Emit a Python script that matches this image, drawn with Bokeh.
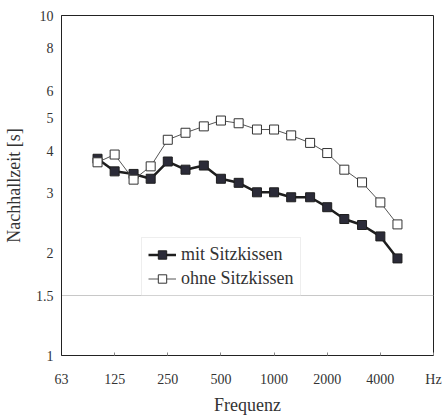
from bokeh.plotting import figure
from bokeh.models import FixedTicker, Legend, LegendItem, BasicTickFormatter
from bokeh.embed import file_html
from bokeh.resources import INLINE

freqs = [100, 125, 160, 200, 250, 315, 400, 500, 630, 800, 1000, 1250, 1600, 2000, 2500, 3150, 4000, 5000]
mit_sitzkissen = [3.79, 3.48, 3.42, 3.31, 3.72, 3.52, 3.62, 3.31, 3.22, 3.02, 3.02, 2.92, 2.92, 2.73, 2.52, 2.42, 2.24, 1.93]
ohne_sitzkissen = [3.70, 3.90, 3.29, 3.60, 4.31, 4.52, 4.72, 4.91, 4.82, 4.62, 4.62, 4.44, 4.22, 3.94, 3.52, 3.23, 2.82, 2.43]

x_ticks = [62.5, 125, 250, 500, 1000, 2000, 4000, 8000]
x_tick_labels = ["63", "125", "250", "500", "1000", "2000", "4000", "Hz"]
y_ticks = [1, 1.5, 2, 3, 4, 5, 6, 8, 10]
y_tick_labels = ["1", "1.5", "2", "3", "4", "5", "6", "8", "10"]

FONT = "Liberation Serif"
TXT = "#333333"

p = figure(width=444, height=417, x_axis_type="log", y_axis_type="log",
           x_range=(62.5, 8000), y_range=(1, 10),
           output_backend="svg", toolbar_location=None,
           min_border_left=61, min_border_right=11, min_border_top=15, min_border_bottom=62)
p.background_fill_color = "white"
p.border_fill_color = "white"
p.outline_line_color = "#222222"
p.outline_line_width = 1

p.xgrid.visible = False
p.ygrid.ticker = FixedTicker(ticks=[1.5])
p.ygrid.grid_line_color = "#c8c8c8"
p.ygrid.grid_line_width = 1

# axes
p.xaxis.ticker = FixedTicker(ticks=x_ticks)
p.xaxis.formatter = BasicTickFormatter()
p.xaxis.major_label_overrides = {float(t): l for t, l in zip(x_ticks, x_tick_labels)}
p.yaxis.ticker = FixedTicker(ticks=y_ticks)
p.yaxis.formatter = BasicTickFormatter()
p.yaxis.major_label_overrides = {float(t): l for t, l in zip(y_ticks, y_tick_labels)}

for ax in (p.xaxis, p.yaxis):
    ax.axis_line_color = "#222222"
    ax.axis_line_width = 1
    ax.major_label_text_font = FONT
    ax.major_label_text_font_size = "14px"
    ax.major_label_text_color = TXT
    ax.axis_label_text_font = FONT
    ax.axis_label_text_font_size = "18px"
    ax.axis_label_text_font_style = "normal"
    ax.axis_label_text_color = TXT
    ax.minor_tick_line_color = None

p.xaxis.major_tick_out = 0
p.xaxis.major_tick_in = 3
p.xaxis.major_tick_line_color = "#888888"
p.xaxis.major_label_standoff = 16
p.xaxis.axis_label = "Frequenz"
p.xaxis.axis_label_standoff = 5

p.yaxis.major_tick_out = 0
p.yaxis.major_tick_in = 0
p.yaxis.major_label_standoff = 8
p.yaxis.axis_label = "Nachhallzeit [s]"
p.yaxis.axis_label_standoff = 9

# series
l1 = p.line(freqs, mit_sitzkissen, line_color="#1e1e1e", line_width=2.5)
s1 = p.scatter(freqs, mit_sitzkissen, marker="square", size=9,
               fill_color="#2b2b38", line_color="#1e1e1e", line_width=1)
l2 = p.line(freqs, ohne_sitzkissen, line_color="#555555", line_width=1)
s2 = p.scatter(freqs, ohne_sitzkissen, marker="square", size=9,
               fill_color="white", line_color="#333333", line_width=1)

legend = Legend(items=[LegendItem(label="mit Sitzkissen", renderers=[l1, s1]),
                       LegendItem(label="ohne Sitzkissen", renderers=[l2, s2])],
                location=(80, 59), orientation="vertical")
legend.padding = 6
legend.spacing = 3
legend.margin = 0
legend.glyph_width = 28
legend.glyph_height = 21
legend.label_height = 21
legend.label_standoff = 5
legend.label_text_font = FONT
legend.label_text_font_size = "18px"
legend.label_text_color = TXT
legend.border_line_color = "#dddddd"
legend.background_fill_alpha = 0
p.add_layout(legend)

open("out.html", "w").write(file_html(p, INLINE))
